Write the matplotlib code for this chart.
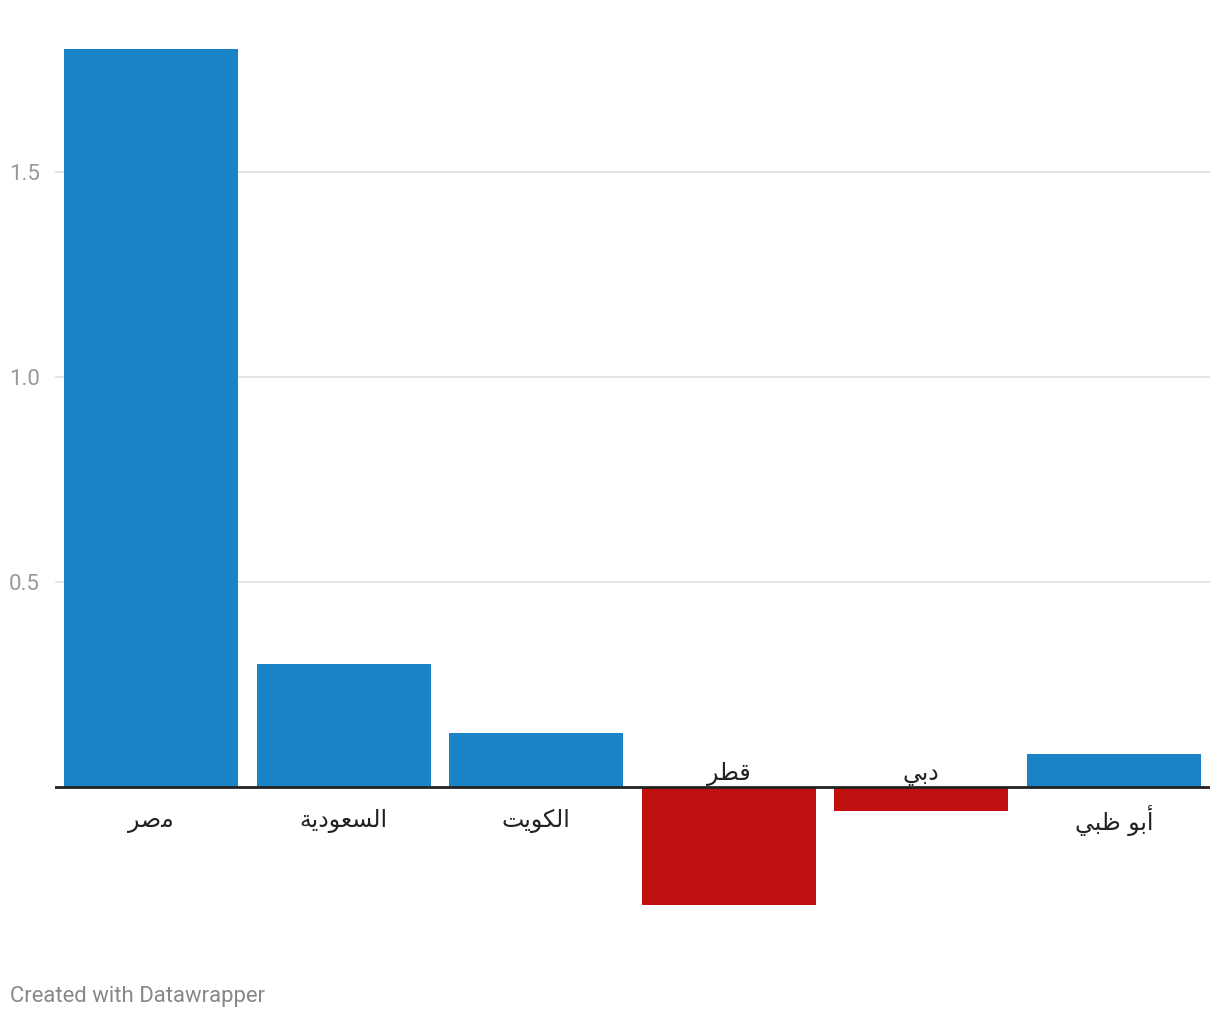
import matplotlib
matplotlib.use("Agg")
import matplotlib.pyplot as plt

# Arabic labels in logical order (for reference) and pre-shaped visual forms
categories_logical = ["مصر", "السعودية", "الكويت", "قطر", "دبي", "أبو ظبي"]
categories_visual = [
    "\uFEAE\uFEBB\uFEE3",
    "\uFE94\uFEF3\uFEA9\uFEEE\uFECC\uFEB4\uFEDF\uFE8D",
    "\uFE96\uFEF3\uFEEE\uFEDC\uFEDF\uFE8D",
    "\uFEAE\uFEC4\uFED7",
    "\uFEF2\uFE91\uFEA9",
    "\uFEF2\uFE92\uFEC7 \uFEEE\uFE91\uFE83",
]
values = [1.80, 0.30, 0.13, -0.29, -0.06, 0.08]
yticks = [0.5, 1.0, 1.5]
ytick_labels = ["0.5", "1.0", "1.5"]

BLUE = "#1a83c7"
RED = "#c00f0f"

W, H = 1220, 1020
fig = plt.figure(figsize=(W / 100, H / 100), dpi=100)
fig.patch.set_facecolor("white")

# axes in pixel coordinates
left_px, right_px = 55, 1210
top_px, bottom_px = 30, 930
ax = fig.add_axes([left_px / W, 1 - bottom_px / H, (right_px - left_px) / W, (bottom_px - top_px) / H])

zero_px = 787.5
ppu = 410.0
ymax = (zero_px - top_px) / ppu
ymin = (zero_px - bottom_px) / ppu
ax.set_ylim(ymin, ymax)
ax.set_xlim(-0.5, len(values) - 0.5)

for s in ax.spines.values():
    s.set_visible(False)

# gridlines
for t in yticks:
    ax.axhline(t, color="#e3e3e3", lw=1.3, zorder=0, xmin=0.0005)

xs = list(range(len(values)))
colors = [BLUE if v >= 0 else RED for v in values]
ax.bar(xs, values, width=0.904, color=colors, zorder=2)
ax.axhline(0, color="#222222", lw=2, zorder=3)

ax.set_xticks([])
ax.set_yticks(yticks)
ax.set_yticklabels(ytick_labels)
ax.tick_params(axis="y", length=0, pad=11, labelsize=16, labelcolor="#999999")
for lab in ax.get_yticklabels():
    lab.set_fontfamily(["Roboto", "DejaVu Sans"])

label_fam = ["DejaVu Sans"]
for x, v, lab in zip(xs, values, categories_visual):
    if v >= 0:
        ax.annotate(lab, (x, 0), xytext=(0, -24), textcoords="offset points",
                    ha="center", va="center", fontsize=17, color="#222222",
                    family=label_fam, zorder=4)
    else:
        ax.annotate(lab, (x, 0), xytext=(0, 10), textcoords="offset points",
                    ha="center", va="center", fontsize=17, color="#222222",
                    family=label_fam, zorder=4)

fig.text(10 / W, 1 - 997 / H, "Created with Datawrapper", ha="left", va="center",
         fontsize=15.9, color="#888888", family=["Roboto", "DejaVu Sans"])

fig.savefig("out.png", dpi=100, facecolor="white")
